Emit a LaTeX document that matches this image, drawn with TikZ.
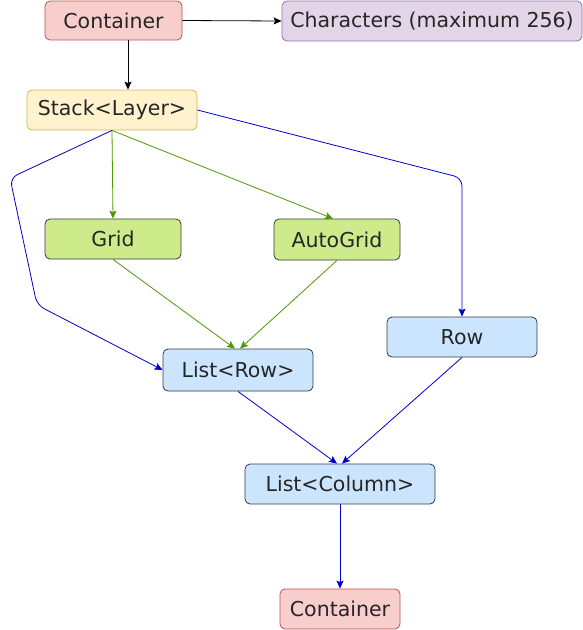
\documentclass[tikz,border=0pt]{standalone}
\usepackage{fontspec}
\setmainfont{DejaVu Sans}
\usetikzlibrary{arrows.meta}
\definecolor{redf}{HTML}{F8CECC}\definecolor{redd}{HTML}{B85450}
\definecolor{purf}{HTML}{E1D5E7}\definecolor{purd}{HTML}{9673A6}
\definecolor{yelf}{HTML}{FFF2CC}\definecolor{yeld}{HTML}{D6B656}
\definecolor{grnf}{HTML}{CDEB8B}\definecolor{bluf}{HTML}{CCE5FF}
\definecolor{dkd}{HTML}{36393D}
\definecolor{grnl}{HTML}{4D9900}\definecolor{blul}{HTML}{0000CC}
\begin{document}
\begin{tikzpicture}[x=1pt,y=-1pt,
  box/.style={draw, rounded corners=5pt, inner sep=0pt, line width=0.8pt,
    font=\fontsize{20.5}{24}\selectfont, text=black!85},
  redbox/.style={box, fill=redf, draw=redd},
  purbox/.style={box, fill=purf, draw=purd},
  yelbox/.style={box, fill=yelf, draw=yeld},
  grnbox/.style={box, fill=grnf, draw=dkd},
  blubox/.style={box, fill=bluf, draw=dkd},
  conn/.style={-{Stealth[length=8pt,width=7pt,inset=1.5pt]}, line width=0.8pt},
  blk/.style={conn, black},
  grn/.style={conn, grnl},
  blu/.style={conn, blul}]
\useasboundingbox (0,0) rectangle (583,630);
\node[redbox, minimum width=137pt, minimum height=39pt] (c1) at (113.5,20.5) {Container};
\node[purbox, minimum width=300pt, minimum height=40pt] (ch) at (432,21) {Characters (maximum 256)};
\node[yelbox, minimum width=170pt, minimum height=40pt] (st) at (112,110) {Stack<Layer>};
\node[grnbox, minimum width=136pt, minimum height=40pt] (gr) at (113,239) {Grid};
\node[grnbox, minimum width=126pt, minimum height=41pt] (ag) at (337,239.5) {AutoGrid};
\node[blubox, minimum width=150pt, minimum height=40pt] (rw) at (462,337) {Row};
\node[blubox, minimum width=150pt, minimum height=42pt] (lr) at (238,370) {List<Row>};
\node[blubox, minimum width=190pt, minimum height=40pt] (lc) at (340,484) {List<Column>};
\node[redbox, minimum width=120pt, minimum height=40pt] (c2) at (340,609) {Container};
\coordinate (a1) at (10,178);
\coordinate (a2) at (37,305);
\coordinate (b1) at (462,178);
\draw[blk] (c1.east) -- (ch.west);
\draw[blk] (c1.south -| 128,0) -- (st.north -| 128,0);
\draw[grn] (st.south) -- (gr.north);
\draw[grn] (st.south) -- (ag.north -| 333,0);
\draw[blu, rounded corners=8pt] (st.south) -- (a1) -- (a2) -- (lr.west);
\draw[blu, rounded corners=8pt] (st.east) -- (b1) -- (rw.north);
\draw[grn] (gr.south) -- (lr.north -| 235,0);
\draw[grn] (ag.south) -- (lr.north -| 240,0);
\draw[blu] (lr.south) -- (lc.north -| 337,0);
\draw[blu] (rw.south) -- (lc.north -| 342,0);
\draw[blu] (lc.south) -- (c2.north);
\end{tikzpicture}
\end{document}
